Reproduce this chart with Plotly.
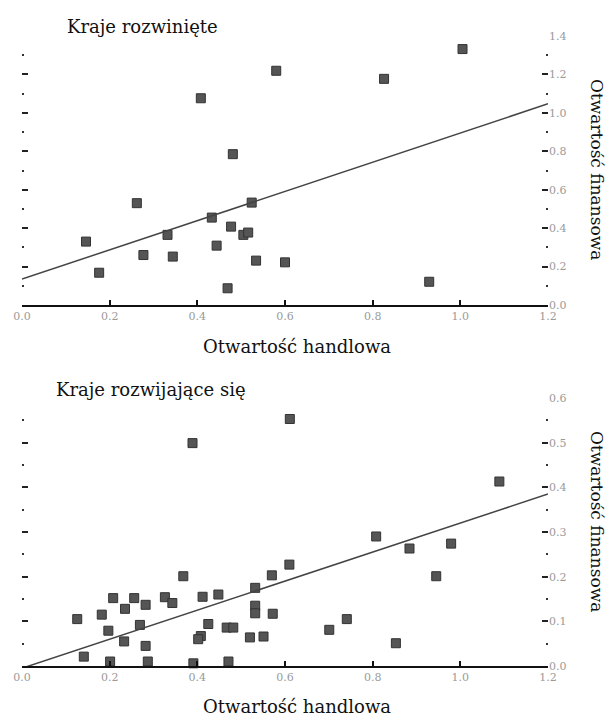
import plotly.graph_objects as go

# ---------------- data ----------------
dev_x = [0.580, 0.408, 0.481, 1.005, 0.826, 0.262, 0.524, 0.433, 0.477, 0.505, 0.516,
         0.332, 0.146, 0.444, 0.277, 0.344, 0.534, 0.600, 0.176, 0.469, 0.929]
dev_y = [1.219, 1.076, 0.785, 1.332, 1.177, 0.530, 0.533, 0.455, 0.408, 0.365, 0.377,
         0.365, 0.330, 0.309, 0.260, 0.252, 0.231, 0.222, 0.168, 0.087, 0.121]
dev_fit_intercept = 0.135
dev_fit_slope = 0.76

devg_x = [0.389, 0.611, 1.089, 0.808, 0.884, 0.979, 0.945, 0.741, 0.701, 0.853, 0.610,
          0.570, 0.368, 0.532, 0.448, 0.412, 0.326, 0.343, 0.208, 0.256, 0.282, 0.235,
          0.532, 0.532, 0.572, 0.126, 0.182, 0.269, 0.425, 0.467, 0.482, 0.197, 0.408,
          0.402, 0.520, 0.551, 0.233, 0.282, 0.141, 0.201, 0.287, 0.391, 0.471]
devg_y = [0.499, 0.553, 0.413, 0.290, 0.263, 0.274, 0.201, 0.105, 0.081, 0.051, 0.227,
          0.203, 0.201, 0.175, 0.160, 0.155, 0.154, 0.141, 0.152, 0.152, 0.137, 0.128,
          0.135, 0.118, 0.117, 0.105, 0.115, 0.092, 0.094, 0.086, 0.086, 0.079, 0.067,
          0.060, 0.064, 0.066, 0.055, 0.045, 0.021, 0.010, 0.010, 0.006, 0.010]
devg_fit_intercept = -0.005
devg_fit_slope = 0.325

x_range = [0.0, 1.2]
x_ticks = [0.0, 0.2, 0.4, 0.6, 0.8, 1.0, 1.2]
x_tick_labels = ["0.0", "0.2", "0.4", "0.6", "0.8", "1.0", "1.2"]
top_y_range = [0.0, 1.4]
top_y_ticks = [0.0, 0.2, 0.4, 0.6, 0.8, 1.0, 1.2, 1.4]
top_y_labels = ["0.0", "0.2", "0.4", "0.6", "0.8", "1.0", "1.2", "1.4"]
bot_y_range = [0.0, 0.6]
bot_y_ticks = [0.0, 0.1, 0.2, 0.3, 0.4, 0.5, 0.6]
bot_y_labels = ["0.0", "0.1", "0.2", "0.3", "0.4", "0.5", "0.6"]

title_top = "Kraje rozwinięte"
title_bot = "Kraje rozwijające się"
x_title = "Otwartość handlowa"
y_title = "Otwartość finansowa"

# ---------------- layout geometry ----------------
W, H = 611, 717
L, R, T, B = 22, 63, 36, 51
PW, PH = W - L - R, H - T - B


def px(xpix):
    return (xpix - L) / PW


def py(ypix):
    return (H - B - ypix) / PH


SERIF = "DejaVu Serif, Liberation Serif, serif"
marker = dict(symbol="square", size=9, color="#555555",
              line=dict(color="#333333", width=1))

fig = go.Figure()

fig.add_trace(go.Scatter(x=dev_x, y=dev_y, mode="markers", marker=marker,
                         xaxis="x", yaxis="y", cliponaxis=False, showlegend=False))
fig.add_trace(go.Scatter(x=x_range,
                         y=[dev_fit_intercept + dev_fit_slope * v for v in x_range],
                         mode="lines", line=dict(color="#444444", width=1.5),
                         xaxis="x", yaxis="y", showlegend=False))
fig.add_trace(go.Scatter(x=[], y=[], xaxis="x", yaxis="y3", showlegend=False))

fig.add_trace(go.Scatter(x=devg_x, y=devg_y, mode="markers", marker=marker,
                         xaxis="x2", yaxis="y2", cliponaxis=False, showlegend=False))
fig.add_trace(go.Scatter(x=x_range,
                         y=[devg_fit_intercept + devg_fit_slope * v for v in x_range],
                         mode="lines", line=dict(color="#444444", width=1.5),
                         xaxis="x2", yaxis="y2", showlegend=False))
fig.add_trace(go.Scatter(x=[], y=[], xaxis="x2", yaxis="y4", showlegend=False))

tickfont = dict(family=SERIF, size=11, color="#9a9a9a")

xcommon = dict(range=x_range, tickvals=x_ticks, ticktext=x_tick_labels,
               showgrid=False, zeroline=False, showline=True, linecolor="#111111",
               linewidth=1.5, ticks="inside", ticklen=5, tickcolor="#111111",
               tickwidth=1.5, tickfont=tickfont)


def yax(side, rng, vals, labels, minor_dt, domain, anchor, overlay=None, labels_on=True):
    d = dict(side=side, range=rng, tickvals=vals, ticktext=labels, domain=domain,
             anchor=anchor, showgrid=False, zeroline=False, showline=False,
             ticks="inside", ticklen=6, tickcolor="#222222", tickwidth=2,
             showticklabels=labels_on, tickfont=tickfont,
             minor=dict(ticks="inside", ticklen=2, tickcolor="#333333",
                        tickwidth=2, dtick=minor_dt, tick0=0))
    if overlay:
        d["overlaying"] = overlay
    return d


dom_top = [py(305), py(36)]
dom_bot = [py(666), py(398)]

fig.update_layout(
    width=W, height=H,
    margin=dict(l=L, r=R, t=T, b=B),
    paper_bgcolor="white", plot_bgcolor="white",
    xaxis=dict(domain=[0, 1], anchor="y", **xcommon),
    yaxis=yax("right", top_y_range, top_y_ticks, top_y_labels, 0.1, dom_top, "x"),
    yaxis3=yax("left", top_y_range, top_y_ticks, top_y_labels, 0.1, dom_top, "x",
               overlay="y", labels_on=False),
    xaxis2=dict(domain=[0, 1], anchor="y2", **xcommon),
    yaxis2=yax("right", bot_y_range, bot_y_ticks, bot_y_labels, 0.05, dom_bot, "x2"),
    yaxis4=yax("left", bot_y_range, bot_y_ticks, bot_y_labels, 0.05, dom_bot, "x2",
               overlay="y2", labels_on=False),
)

ann_font = dict(family=SERIF, size=18, color="#111111")
axt_font = dict(family=SERIF, size=18, color="#111111")
yt_font = dict(family=SERIF, size=17, color="#111111")
annotations = [
    dict(text=title_top, x=px(65), y=py(26), xanchor="left", yanchor="middle",
         font=ann_font),
    dict(text=title_bot, x=px(54), y=py(389), xanchor="left", yanchor="middle",
         font=ann_font),
    dict(text=x_title, x=px(297), y=py(346), xanchor="center", yanchor="middle",
         font=axt_font),
    dict(text=x_title, x=px(297), y=py(706), xanchor="center", yanchor="middle",
         font=axt_font),
    dict(text=y_title, x=px(597), y=py(169), xanchor="center", yanchor="middle",
         textangle=90, font=yt_font),
    dict(text=y_title, x=px(597), y=py(521), xanchor="center", yanchor="middle",
         textangle=90, font=yt_font),
]
for a in annotations:
    a.update(xref="paper", yref="paper", showarrow=False)
fig.update_layout(annotations=annotations)

fig.write_html("out.html",
               config={"displayModeBar": False},
               post_script="document.body.style.margin='0';"
                           "document.body.style.padding='0';")
